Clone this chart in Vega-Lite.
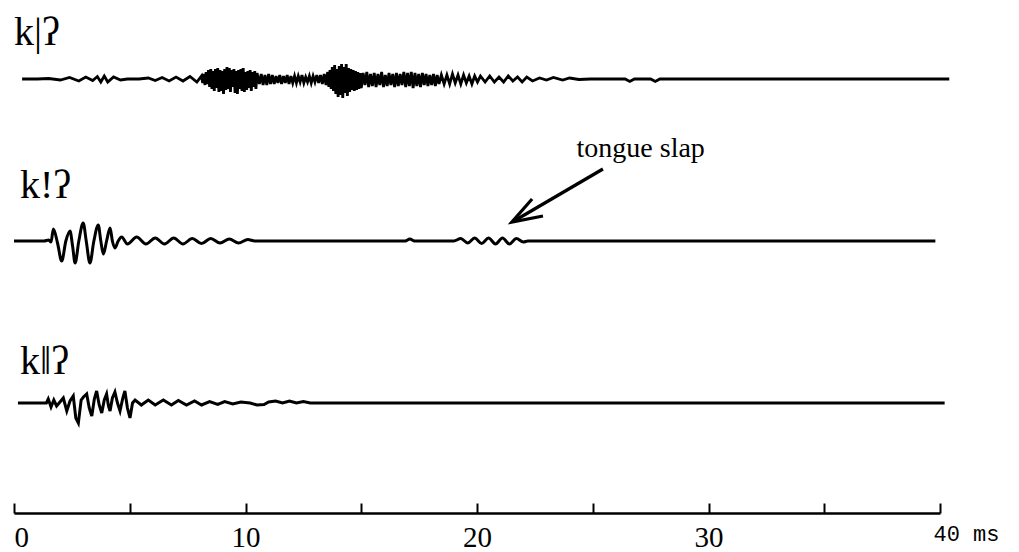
{
"$schema": "https://vega.github.io/schema/vega-lite/v6.json",
"autosize": {"type": "pad"},
"padding": {"left": 8, "top": 1, "right": 0, "bottom": 0},
"background": "white",
"spacing": 0,
"bounds": "flush",
"config": {"view": {"stroke": null}},
"datasets": {
"trace1": [{"t":0.35,"a":0},{"t":1.0,"a":0},{"t":1.5,"a":0.5},{"t":2.0,"a":-1},{"t":2.4,"a":1.5},{"t":2.8,"a":-2},{"t":3.1,"a":2},{"t":3.4,"a":-1.5},{"t":3.6,"a":2.5},{"t":3.75,"a":-3},{"t":3.9,"a":3},{"t":4.05,"a":-3},{"t":4.3,"a":2},{"t":4.6,"a":-1},{"t":4.9,"a":0},{"t":5.4,"a":0},{"t":5.8,"a":1},{"t":6.1,"a":-1.5},{"t":6.4,"a":1.5},{"t":6.7,"a":-2},{"t":7.0,"a":2},{"t":7.3,"a":-2},{"t":7.6,"a":2.5},{"t":7.9,"a":-3},{"t":8.1,"a":3},{"t":8.15,"a":-4},{"t":8.2,"a":5},{"t":8.25,"a":-6},{"t":8.3,"a":7},{"t":8.35,"a":-5},{"t":8.4,"a":9},{"t":8.45,"a":-8},{"t":8.5,"a":10},{"t":8.55,"a":-10},{"t":8.6,"a":8},{"t":8.65,"a":-12},{"t":8.7,"a":10},{"t":8.75,"a":-9},{"t":8.8,"a":11},{"t":8.85,"a":-13},{"t":8.9,"a":9},{"t":8.95,"a":-12},{"t":9.0,"a":8},{"t":9.05,"a":-15},{"t":9.1,"a":10},{"t":9.15,"a":-11},{"t":9.2,"a":12},{"t":9.25,"a":-10},{"t":9.3,"a":11},{"t":9.35,"a":-13},{"t":9.4,"a":9},{"t":9.45,"a":-8},{"t":9.5,"a":10},{"t":9.55,"a":-14},{"t":9.6,"a":8},{"t":9.65,"a":-15},{"t":9.7,"a":9},{"t":9.75,"a":-10},{"t":9.8,"a":10},{"t":9.85,"a":-12},{"t":9.9,"a":11},{"t":9.95,"a":-13},{"t":10.0,"a":7},{"t":10.05,"a":-11},{"t":10.1,"a":8},{"t":10.15,"a":-9},{"t":10.2,"a":9},{"t":10.25,"a":-12},{"t":10.3,"a":7},{"t":10.35,"a":-8},{"t":10.4,"a":8},{"t":10.45,"a":-10},{"t":10.5,"a":6},{"t":10.6,"a":-5},{"t":10.68,"a":5},{"t":10.76,"a":-6},{"t":10.84,"a":4},{"t":10.92,"a":-6},{"t":11.0,"a":5},{"t":11.08,"a":-5},{"t":11.16,"a":4},{"t":11.24,"a":-5},{"t":11.32,"a":3},{"t":11.4,"a":-4},{"t":11.48,"a":4},{"t":11.56,"a":-5},{"t":11.64,"a":3},{"t":11.72,"a":-4},{"t":11.8,"a":4},{"t":11.88,"a":-5},{"t":11.96,"a":3},{"t":12.04,"a":-4},{"t":12.12,"a":3},{"t":12.2,"a":-4},{"t":12.28,"a":3},{"t":12.36,"a":-3},{"t":12.44,"a":4},{"t":12.52,"a":-4},{"t":12.6,"a":2},{"t":12.68,"a":-3},{"t":12.76,"a":3},{"t":12.84,"a":-4},{"t":12.92,"a":3},{"t":13.0,"a":-3},{"t":13.08,"a":4},{"t":13.16,"a":-4},{"t":13.24,"a":4},{"t":13.32,"a":-5},{"t":13.4,"a":5},{"t":13.48,"a":-6},{"t":13.55,"a":7},{"t":13.6,"a":-8},{"t":13.65,"a":9},{"t":13.7,"a":-10},{"t":13.75,"a":12},{"t":13.8,"a":-12},{"t":13.85,"a":14},{"t":13.9,"a":-15},{"t":13.95,"a":10},{"t":14.0,"a":-18},{"t":14.05,"a":13},{"t":14.1,"a":-16},{"t":14.15,"a":15},{"t":14.2,"a":-19},{"t":14.25,"a":12},{"t":14.3,"a":-14},{"t":14.35,"a":15},{"t":14.4,"a":-17},{"t":14.45,"a":11},{"t":14.5,"a":-13},{"t":14.55,"a":10},{"t":14.6,"a":-11},{"t":14.65,"a":9},{"t":14.7,"a":-12},{"t":14.75,"a":8},{"t":14.8,"a":-11},{"t":14.85,"a":7},{"t":14.9,"a":-10},{"t":14.95,"a":6},{"t":15.0,"a":-9},{"t":15.08,"a":6},{"t":15.16,"a":-6},{"t":15.24,"a":7},{"t":15.32,"a":-8},{"t":15.4,"a":5},{"t":15.48,"a":-7},{"t":15.56,"a":6},{"t":15.64,"a":-8},{"t":15.72,"a":5},{"t":15.8,"a":-6},{"t":15.88,"a":7},{"t":15.96,"a":-8},{"t":16.04,"a":4},{"t":16.12,"a":-7},{"t":16.2,"a":6},{"t":16.28,"a":-6},{"t":16.36,"a":5},{"t":16.44,"a":-8},{"t":16.52,"a":6},{"t":16.6,"a":-7},{"t":16.68,"a":5},{"t":16.76,"a":-6},{"t":16.84,"a":7},{"t":16.92,"a":-8},{"t":17.0,"a":6},{"t":17.08,"a":-7},{"t":17.16,"a":7},{"t":17.24,"a":-9},{"t":17.32,"a":6},{"t":17.4,"a":-7},{"t":17.48,"a":5},{"t":17.56,"a":-8},{"t":17.64,"a":6},{"t":17.72,"a":-6},{"t":17.8,"a":5},{"t":17.88,"a":-7},{"t":17.96,"a":4},{"t":18.04,"a":-6},{"t":18.12,"a":5},{"t":18.2,"a":-7},{"t":18.28,"a":4},{"t":18.36,"a":-5},{"t":18.46,"a":4},{"t":18.58,"a":-5},{"t":18.7,"a":4},{"t":18.82,"a":-5},{"t":18.94,"a":5},{"t":19.06,"a":-4},{"t":19.18,"a":4},{"t":19.3,"a":-5},{"t":19.42,"a":4},{"t":19.54,"a":-4},{"t":19.66,"a":3},{"t":19.78,"a":-5},{"t":19.9,"a":3},{"t":20.02,"a":-3},{"t":20.15,"a":3},{"t":20.35,"a":-3},{"t":20.55,"a":3},{"t":20.75,"a":-3},{"t":20.95,"a":2},{"t":21.15,"a":-3},{"t":21.35,"a":3},{"t":21.55,"a":-2},{"t":21.75,"a":2},{"t":21.95,"a":-3},{"t":22.15,"a":2},{"t":22.4,"a":-2},{"t":22.7,"a":1},{"t":23.0,"a":-1},{"t":23.3,"a":1.5},{"t":23.7,"a":-1},{"t":24.0,"a":1},{"t":24.4,"a":-0.5},{"t":24.9,"a":0},{"t":26.4,"a":0},{"t":26.6,"a":-2.5},{"t":26.8,"a":0},{"t":27.5,"a":0},{"t":27.7,"a":-2.5},{"t":27.9,"a":0},{"t":40.4,"a":0}],
"trace2": [{"t":0.0,"a":0},{"t":1.3,"a":0},{"t":1.5,"a":1},{"t":1.6,"a":-1},{"t":1.7,"a":12},{"t":1.88,"a":-2},{"t":2.06,"a":-20},{"t":2.24,"a":0},{"t":2.42,"a":10},{"t":2.53,"a":-5},{"t":2.64,"a":-22},{"t":2.8,"a":0},{"t":2.99,"a":18},{"t":3.12,"a":0},{"t":3.28,"a":-22},{"t":3.45,"a":0},{"t":3.64,"a":16},{"t":3.75,"a":0},{"t":3.86,"a":-13},{"t":4.0,"a":0},{"t":4.15,"a":13},{"t":4.25,"a":0},{"t":4.36,"a":-7},{"t":4.5,"a":0},{"t":4.65,"a":4},{"t":4.9,"a":-3},{"t":5.3,"a":4},{"t":5.7,"a":-3},{"t":6.1,"a":3},{"t":6.5,"a":-3},{"t":6.9,"a":3},{"t":7.3,"a":-3},{"t":7.7,"a":2.5},{"t":8.1,"a":-2.5},{"t":8.5,"a":2.5},{"t":8.9,"a":-2},{"t":9.3,"a":2},{"t":9.7,"a":-2},{"t":10.1,"a":1.5},{"t":10.4,"a":0},{"t":16.9,"a":0},{"t":17.1,"a":2},{"t":17.3,"a":0},{"t":19.0,"a":0},{"t":19.3,"a":2.5},{"t":19.6,"a":-2},{"t":19.9,"a":3},{"t":20.2,"a":-2.5},{"t":20.5,"a":3},{"t":20.8,"a":-3},{"t":21.1,"a":3},{"t":21.4,"a":-3},{"t":21.7,"a":2.5},{"t":22.0,"a":-1},{"t":22.2,"a":0},{"t":39.8,"a":0}],
"trace3": [{"t":0.17,"a":0},{"t":1.4,"a":0},{"t":1.48,"a":4},{"t":1.6,"a":-4},{"t":1.72,"a":3},{"t":1.84,"a":-3},{"t":1.95,"a":0},{"t":2.13,"a":5},{"t":2.28,"a":-8},{"t":2.42,"a":2},{"t":2.56,"a":7},{"t":2.67,"a":-15},{"t":2.78,"a":-20},{"t":2.9,"a":3},{"t":3.0,"a":6},{"t":3.14,"a":9},{"t":3.25,"a":-5},{"t":3.36,"a":-13},{"t":3.47,"a":4},{"t":3.57,"a":12},{"t":3.68,"a":-2},{"t":3.79,"a":-10},{"t":3.9,"a":3},{"t":4.0,"a":9},{"t":4.08,"a":-3},{"t":4.15,"a":-8},{"t":4.25,"a":5},{"t":4.36,"a":11},{"t":4.47,"a":0},{"t":4.58,"a":-8},{"t":4.7,"a":5},{"t":4.79,"a":12},{"t":4.9,"a":-5},{"t":5.01,"a":-15},{"t":5.12,"a":0},{"t":5.23,"a":3},{"t":5.5,"a":-2},{"t":5.8,"a":3},{"t":6.1,"a":-2},{"t":6.45,"a":3},{"t":6.8,"a":-2},{"t":7.1,"a":2.5},{"t":7.45,"a":-2},{"t":7.8,"a":2},{"t":8.1,"a":-2},{"t":8.45,"a":1.5},{"t":8.8,"a":-1.5},{"t":9.1,"a":1.5},{"t":9.45,"a":-1},{"t":9.8,"a":1},{"t":10.2,"a":0},{"t":10.5,"a":-2},{"t":10.8,"a":-1.5},{"t":11.0,"a":1},{"t":11.3,"a":2},{"t":11.6,"a":0},{"t":11.9,"a":2},{"t":12.2,"a":0},{"t":12.5,"a":1.5},{"t":12.8,"a":0},{"t":40.2,"a":0}],
"arrow": [{"seg":"shaft","o":1,"t":25.44,"a":72},{"seg":"shaft","o":2,"t":21.6,"a":20},{"seg":"head","o":1,"t":22.38,"a":42},{"seg":"head","o":2,"t":21.51,"a":19},{"seg":"head","o":3,"t":22.85,"a":25}]
},
"vconcat": [
{
"width": 926, "height": 120,
"encoding": {
"x": {"field": "t", "type": "quantitative", "scale": {"domain": [0, 40], "nice": false}, "axis": null},
"y": {"field": "a", "type": "quantitative", "scale": {"domain": [-42, 78], "nice": false, "zero": false}, "axis": null}
},
"layer": [
{"data": {"name": "trace1"}, "mark": {"type": "line", "color": "black", "strokeWidth": 2.8, "clip": false}},
{"data": {"values": [{"t": 0, "a": 34, "label": "k|ʔ"}]}, "mark": {"type": "text", "align": "left", "baseline": "alphabetic", "font": "Liberation Serif", "fontSize": 40, "color": "black"}, "encoding": {"text": {"field": "label"}}}
]
},
{
"width": 926, "height": 162,
"encoding": {
"x": {"field": "t", "type": "quantitative", "scale": {"domain": [0, 40], "nice": false}, "axis": null},
"y": {"field": "a", "type": "quantitative", "scale": {"domain": [-42, 120], "nice": false, "zero": false}, "axis": null}
},
"layer": [
{"data": {"name": "trace2"}, "mark": {"type": "line", "color": "black", "strokeWidth": 3, "interpolate": "monotone", "clip": false}},
{"data": {"name": "arrow"}, "mark": {"type": "line", "color": "black", "strokeWidth": 3.2, "clip": false}, "encoding": {"detail": {"field": "seg"}, "order": {"field": "o"}}},
{"data": {"values": [{"t": 0.26, "a": 43, "label": "k!ʔ"}]}, "mark": {"type": "text", "align": "left", "baseline": "alphabetic", "font": "Liberation Serif", "fontSize": 40, "color": "black"}, "encoding": {"text": {"field": "label"}}},
{"data": {"values": [{"t": 24.3, "a": 84, "label": "tongue slap"}]}, "mark": {"type": "text", "align": "left", "baseline": "alphabetic", "font": "Liberation Serif", "fontSize": 28, "color": "black"}, "encoding": {"text": {"field": "label"}}}
]
},
{
"width": 926, "height": 230,
"encoding": {
"x": {"field": "t", "type": "quantitative", "scale": {"domain": [0, 40], "nice": false},
 "axis": {"values": [0,5,10,15,20,25,30,35,40], "title": null, "grid": false, "tickSize": -10, "tickWidth": 2, "tickColor": "black", "domainColor": "black", "domainWidth": 2.5, "labelColor": "black", "labelFlush": false, "labelOverlap": false, "labelBaseline": "top", "labelPadding": 20,
 "labelExpr": "datum.value == 40 ? '40  ms' : (datum.value % 10 == 0 ? datum.label : '')",
 "labelFont": {"condition": {"test": "datum.value == 40", "value": "Liberation Mono"}, "value": "Liberation Serif"},
 "labelFontSize": {"condition": {"test": "datum.value == 40", "value": 22}, "value": 29},
 "labelAlign": {"condition": {"test": "datum.value == 0 || datum.value == 40", "value": "left"}, "value": "center"},
 "labelOffset": {"condition": {"test": "datum.value == 40", "value": -7}, "value": 0}}},
"y": {"field": "a", "type": "quantitative", "scale": {"domain": [-110, 120], "nice": false, "zero": false}, "axis": null}
},
"layer": [
{"data": {"name": "trace3"}, "mark": {"type": "line", "color": "black", "strokeWidth": 3, "clip": false}},
{"data": {"values": [{"t": 0.26, "a": 29, "label": "k‖ʔ"}]}, "mark": {"type": "text", "align": "left", "baseline": "alphabetic", "font": "Liberation Serif", "fontSize": 40, "color": "black"}, "encoding": {"text": {"field": "label"}}}
]
}
]
}
